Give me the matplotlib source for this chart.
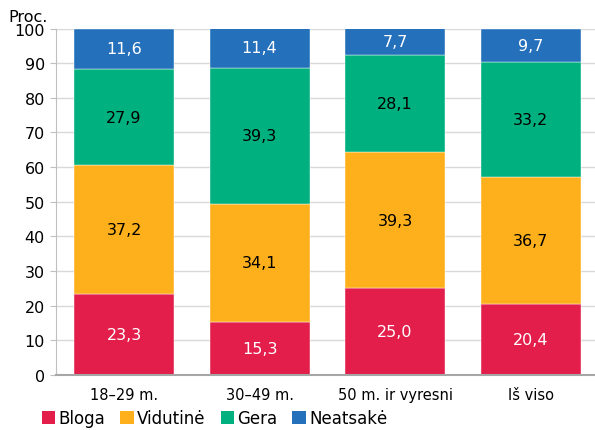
import matplotlib.pyplot as plt
from matplotlib.patches import Patch

# Duomenys
groups = ['18–29 m.', '30–49 m.', '50 m. ir vyresni', 'Iš viso']
series = ['Bloga', 'Vidutinė', 'Gera', 'Neatsakė']
bloga = [23.3, 15.3, 25.0, 20.4]
vidutine = [37.2, 34.1, 39.3, 36.7]
gera = [27.9, 39.3, 28.1, 33.2]
neatsake = [11.6, 11.4, 7.7, 9.7]

values = [bloga, vidutine, gera, neatsake]
colors = ['#E31E4B', '#FDB01B', '#00B07E', '#2470BB']
text_colors = ['white', 'black', 'black', 'white']

fig = plt.figure(figsize=(5.95, 4.31), dpi=100)
ax = fig.add_axes([56 / 595, 1 - 376 / 431, 1 - 56 / 595, (376 - 29.5) / 431])

x = range(len(groups))
bottom = [0.0] * len(groups)
for vals, col, tcol in zip(values, colors, text_colors):
    ax.bar(x, vals, width=0.738, bottom=bottom, color=col,
           edgecolor='white', linewidth=0.3, zorder=2)
    for i, v in enumerate(vals):
        ax.text(i, bottom[i] + v / 2, f'{v:.1f}'.replace('.', ','),
                ha='center', va='center', color=tcol, fontsize=11.5, zorder=3)
    bottom = [b + v for b, v in zip(bottom, vals)]

ax.set_xlim(-0.502, 3.476)
ax.set_ylim(0, 100)
ax.set_yticks(range(0, 101, 10))
ax.set_xticks(list(x))
ax.set_xticklabels(groups)
ax.tick_params(axis='x', length=0, pad=9, labelsize=10.5)
ax.tick_params(axis='y', length=4, color='#BFBFBF', labelsize=11.5, pad=4)
ax.grid(axis='y', color='#D9D9D9', linewidth=1, zorder=0)

for s in ['top', 'right']:
    ax.spines[s].set_visible(False)
ax.spines['left'].set_color('#BFBFBF')
ax.spines['bottom'].set_color('#A6A6A6')
ax.spines['bottom'].set_linewidth(1.5)

fig.text(8 / 595, 1 - 17 / 431, 'Proc.', fontsize=11.5, va='center', ha='left')

handles = [Patch(facecolor=c, label=s) for c, s in zip(colors, series)]
fig.legend(handles=handles, ncol=4, loc='center left',
           bbox_to_anchor=(42 / 595, 1 - 419 / 431), frameon=False,
           fontsize=12, handlelength=0.8, handleheight=0.8,
           handletextpad=0.2, columnspacing=0.9, borderpad=0, borderaxespad=0)

fig.savefig('out.png', dpi=100)
